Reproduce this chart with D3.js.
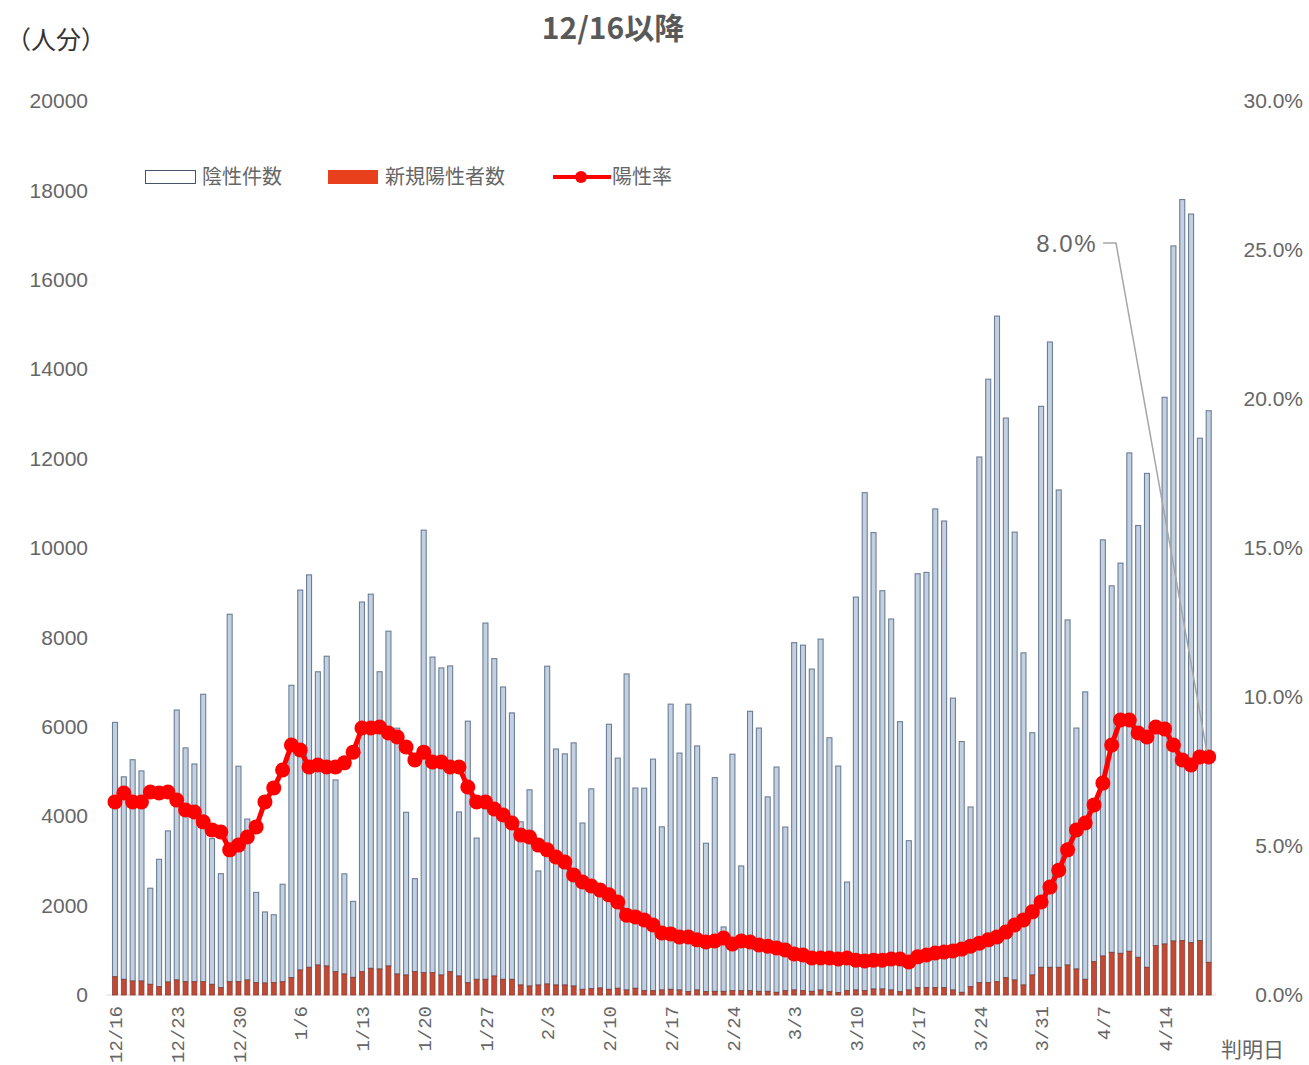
<!DOCTYPE html>
<html>
<head>
<meta charset="utf-8">
<script src="https://cdn.jsdelivr.net/npm/d3@7"></script>
<style>
  body { margin: 0; background: #fff; }
  svg { display: block; font-family: "Noto Sans CJK JP", "Noto Sans", sans-serif; }
</style>
</head>
<body>
<svg></svg>
<script>
// 判明日 12/16 - 4/19
const startDay = new Date(2020, 11, 16)
const endDay = new Date(2021, 3, 20)
const dagen = d3.timeDay.range(startDay, endDay)
const fmt = d3.timeFormat("%-m/%-d")
const labels = dagen.map(d => fmt(d))

// 陰性件数
const negatief = [
  5690, 4530, 4950, 4700, 2150, 2850, 3380, 6040, 5230, 4870, 6430, 3260, 2550, 8220, 4820, 3600,
  2020, 1590, 1520, 2180, 6540, 8500, 8780, 6560, 6930, 4290, 2240, 1700, 8270, 8370, 6650, 7490,
  5500, 3640, 2080, 9900, 7060, 6870, 6840, 3670, 5850, 3160, 7970, 7100, 6540, 5960, 3650, 4390,
  2550, 7110, 5280, 5170, 5440, 3720, 4470, 2190, 5930, 5150, 7070, 4480, 4530, 5180, 3650, 6380,
  5300, 6430, 5460, 3320, 4780, 1440, 5290, 2790, 6250, 5890, 4350, 5040, 3660, 7770, 7730, 7210,
  7850, 5680, 5070, 2430, 8790, 11140, 10210, 8910, 8300, 6040, 3340, 9260, 9290, 10710, 10440, 6530,
  5610, 4020, 11760, 13500, 14890, 12520, 10020, 7430, 5420, 12550, 13990, 10680, 7720, 5390, 6430, 3550,
  9310, 8200, 8730, 11150, 9660, 11050, 4900, 12230, 15550, 16580, 16300, 11240, 12340
]

// 新規陽性者数
const positief = [
  409, 351, 313, 313, 239, 186, 291, 336, 298, 298, 298, 239, 164, 298, 298, 336,
  276, 268, 276, 298, 388, 559, 619, 671, 649, 522, 470, 395, 522, 597, 582, 649,
  470, 447, 522, 500, 500, 447, 522, 425, 276, 351, 351, 425, 351, 351, 224, 201,
  224, 246, 224, 224, 201, 127, 142, 157, 127, 150, 112, 150, 97, 97, 112, 127,
  112, 75, 112, 75, 82, 82, 97, 97, 97, 82, 82, 60, 97, 112, 97, 82,
  112, 75, 52, 97, 112, 97, 134, 134, 112, 75, 112, 164, 164, 164, 164, 112,
  60, 186, 276, 276, 298, 388, 336, 224, 447, 619, 619, 619, 671, 582, 351, 746,
  872, 954, 932, 977, 843, 619, 1103, 1141, 1208, 1216, 1171, 1216, 731
]

// 陽性率 (%)
const percentage = [
  6.48, 6.78, 6.48, 6.48, 6.81, 6.78, 6.81, 6.54, 6.21, 6.14, 5.81, 5.54, 5.47, 4.87, 5.03, 5.30,
  5.64, 6.48, 6.95, 7.55, 8.39, 8.22, 7.65, 7.72, 7.65, 7.65, 7.79, 8.15, 8.96, 8.96, 8.99, 8.79,
  8.66, 8.32, 7.89, 8.15, 7.82, 7.82, 7.65, 7.65, 6.98, 6.48, 6.48, 6.24, 6.04, 5.77, 5.37, 5.30,
  5.03, 4.87, 4.63, 4.46, 4.03, 3.79, 3.66, 3.52, 3.36, 3.12, 2.68, 2.62, 2.52, 2.35, 2.08, 2.05,
  1.95, 1.95, 1.85, 1.78, 1.81, 1.91, 1.71, 1.81, 1.78, 1.68, 1.64, 1.58, 1.51, 1.38, 1.34, 1.24,
  1.24, 1.24, 1.21, 1.24, 1.17, 1.14, 1.17, 1.17, 1.21, 1.21, 1.11, 1.28, 1.34, 1.41, 1.44, 1.48,
  1.54, 1.64, 1.74, 1.85, 1.95, 2.11, 2.35, 2.52, 2.79, 3.12, 3.62, 4.19, 4.87, 5.54, 5.77, 6.38,
  7.11, 8.39, 9.23, 9.23, 8.79, 8.66, 8.99, 8.93, 8.39, 7.89, 7.72, 7.99, 7.99
]

const linksTicks = [0, 2000, 4000, 6000, 8000, 10000, 12000, 14000, 16000, 18000, 20000]
const rechtsTicks = [0, 5, 10, 15, 20, 25, 30]

const width = 1309
const height = 1065
const grijs = "#666"

const svg = d3.select("svg")
    .attr("width", width)
    .attr("height", height)

const data = labels.map((l, i) => ({
    label: l,
    neg: negatief[i],
    pos: positief[i],
    rate: percentage[i]
}))

const x = d3.scalePoint()
    .domain(labels)
    .range([115, 1208.7])

const yLinks = d3.scaleLinear()
    .domain([0, 20000])
    .range([995, 101])

const yRechts = d3.scaleLinear()
    .domain([0, 30])
    .range([995, 101])

const barBreedte = 5

tekenTitels()
tekenAssen()
tekenStaven()
tekenLijn()
tekenLegenda()
tekenLabel()

function tekenTitels() {
    svg.append("text")
        .attr("x", 613)
        .attr("y", 39)
        .attr("text-anchor", "middle")
        .attr("font-size", 30)
        .attr("font-weight", "bold")
        .attr("fill", "#595959")
        .text("12/16以降")

    svg.append("text")
        .attr("x", 6)
        .attr("y", 49)
        .attr("font-size", 25)
        .attr("fill", "#333")
        .text("（人分）")

    svg.append("text")
        .attr("x", 1221)
        .attr("y", 1057)
        .attr("font-size", 21)
        .attr("fill", grijs)
        .text("判明日")
}

function tekenAssen() {
    const links = svg.append("g")
        .attr("transform", "translate(88,0)")
        .call(d3.axisLeft(yLinks).tickValues(linksTicks).tickSize(0).tickPadding(0).tickFormat(d3.format("d")))
    links.select(".domain").remove()
    links.selectAll("text")
        .attr("font-family", "'Liberation Sans', sans-serif")
        .attr("font-size", 21)
        .attr("fill", grijs)

    const rechts = svg.append("g")
        .attr("transform", "translate(1303,0)")
        .call(d3.axisLeft(yRechts).tickValues(rechtsTicks).tickSize(0).tickPadding(0).tickFormat(d => d.toFixed(1) + "%"))
    rechts.select(".domain").remove()
    rechts.selectAll("text")
        .attr("font-family", "'Liberation Sans', sans-serif")
        .attr("font-size", 21)
        .attr("fill", grijs)

    svg.append("line")
        .attr("x1", 106)
        .attr("x2", 1216)
        .attr("y1", yLinks(0))
        .attr("y2", yLinks(0))
        .attr("stroke", "#e6d4d4")
        .attr("stroke-width", 1)

    const onder = svg.append("g")
        .attr("transform", "translate(0,1006)")
        .call(d3.axisBottom(x).tickValues(labels.filter((d, i) => i % 7 === 0)).tickSize(0))
    onder.select(".domain").remove()
    onder.selectAll("text")
        .attr("font-family", "'Liberation Mono', monospace")
        .attr("font-size", 19)
        .attr("fill", grijs)
        .attr("text-anchor", "end")
        .attr("transform", "rotate(-90)")
        .attr("x", 0)
        .attr("y", 0)
        .attr("dy", "0.35em")
}

function tekenStaven() {
    const groepen = svg.append("g")
        .selectAll("g")
        .data(data)
        .enter()
        .append("g")

    groepen.append("rect")
        .attr("x", d => x(d.label) - barBreedte / 2)
        .attr("y", d => yLinks(d.pos + d.neg))
        .attr("width", barBreedte)
        .attr("height", d => yLinks(d.pos) - yLinks(d.pos + d.neg))
        .attr("fill", "#c3d0df")
        .attr("stroke", "#6b7e98")
        .attr("stroke-width", 1.1)

    groepen.append("rect")
        .attr("x", d => x(d.label) - barBreedte / 2)
        .attr("y", d => yLinks(d.pos))
        .attr("width", barBreedte)
        .attr("height", d => yLinks(0) - yLinks(d.pos))
        .attr("fill", "#c24a34")
        .attr("stroke", "#8b4038")
        .attr("stroke-width", 0.8)
}

function tekenLijn() {
    const lijn = d3.line()
        .x(d => x(d.label))
        .y(d => yRechts(d.rate))

    svg.append("path")
        .datum(data)
        .attr("d", lijn)
        .attr("fill", "none")
        .attr("stroke", "#ff0000")
        .attr("stroke-width", 5)

    svg.append("g")
        .selectAll("circle")
        .data(data)
        .enter()
        .append("circle")
        .attr("cx", d => x(d.label))
        .attr("cy", d => yRechts(d.rate))
        .attr("r", 7.5)
        .attr("fill", "#ff0000")
}

function tekenLegenda() {
    const legenda = svg.append("g")
        .attr("font-size", 20)
        .attr("fill", grijs)

    legenda.append("rect")
        .attr("x", 145.5).attr("y", 170.5)
        .attr("width", 50).attr("height", 13)
        .attr("fill", "#fff")
        .attr("stroke", "#44546a")
        .attr("stroke-width", 1)
    legenda.append("text")
        .attr("x", 202).attr("y", 184)
        .text("陰性件数")

    legenda.append("rect")
        .attr("x", 328).attr("y", 170)
        .attr("width", 50).attr("height", 14)
        .attr("fill", "#e8401c")
    legenda.append("text")
        .attr("x", 385).attr("y", 184)
        .text("新規陽性者数")

    legenda.append("line")
        .attr("x1", 553).attr("x2", 611)
        .attr("y1", 177).attr("y2", 177)
        .attr("stroke", "#ff0000")
        .attr("stroke-width", 4)
    legenda.append("circle")
        .attr("cx", 581).attr("cy", 177)
        .attr("r", 6)
        .attr("fill", "#ff0000")
    legenda.append("text")
        .attr("x", 612).attr("y", 184)
        .text("陽性率")
}

function tekenLabel() {
    const laatste = data[data.length - 1]
    const lx = x(laatste.label)
    const ly = yRechts(laatste.rate)

    svg.append("polyline")
        .attr("points", [[1103, 243], [1116, 243], [lx - 2, ly - 6]].map(p => p.join(",")).join(" "))
        .attr("fill", "none")
        .attr("stroke", "#a6a6a6")
        .attr("stroke-width", 1.5)

    svg.append("text")
        .attr("x", 1097)
        .attr("y", 252)
        .attr("text-anchor", "end")
        .attr("font-family", "'Liberation Sans', sans-serif")
        .attr("font-size", 24)
        .attr("letter-spacing", 1.5)
        .attr("fill", grijs)
        .text(laatste.rate.toFixed(1) + "%")
}
</script>
</body>
</html>
